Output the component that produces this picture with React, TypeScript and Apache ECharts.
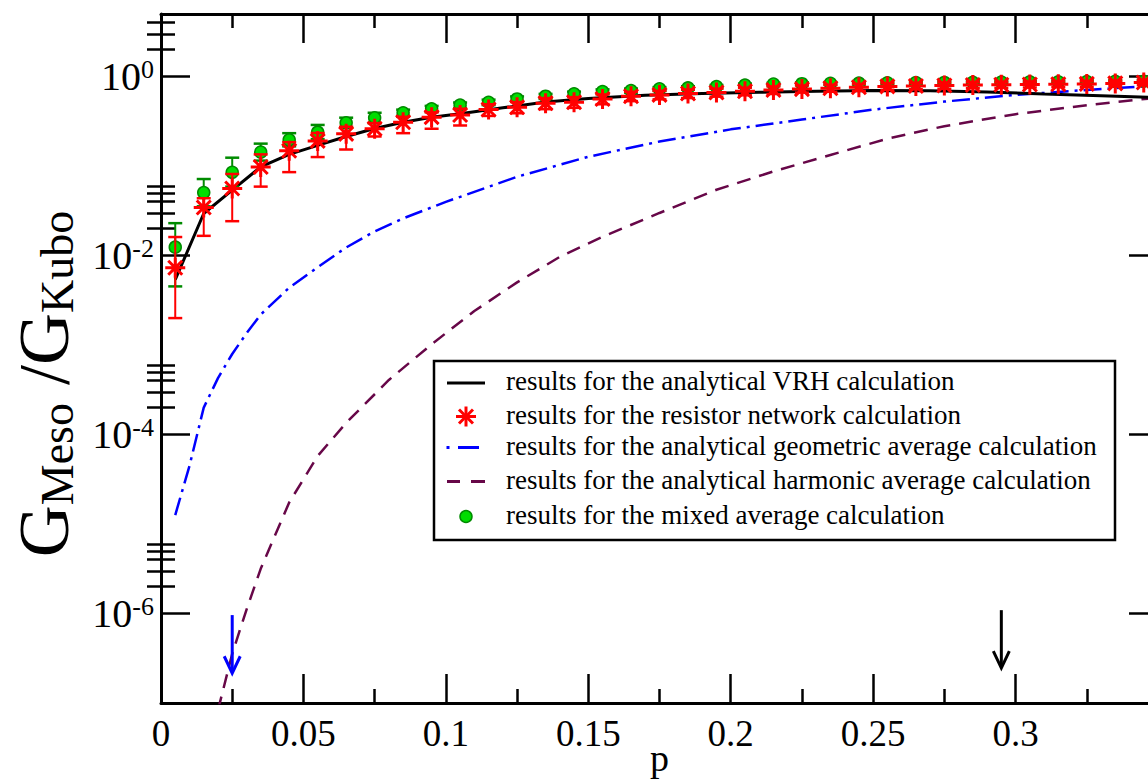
import React, { useEffect, useRef } from 'react';
import * as echarts from 'echarts';

const FONT = "'Liberation Serif', 'Times New Roman', serif";

// ---------------- data ----------------
const pPoints = [0.005, 0.015, 0.025, 0.035, 0.045, 0.055, 0.065, 0.075, 0.085, 0.095, 0.105, 0.115, 0.125, 0.135, 0.145, 0.155, 0.165, 0.175, 0.185, 0.195, 0.205, 0.215, 0.225, 0.235, 0.245, 0.255, 0.265, 0.275, 0.285, 0.295, 0.305, 0.315, 0.325, 0.335, 0.345];

// resistor network (red asterisks)
const resistorValues = [0.00731, 0.0344, 0.0562, 0.0977, 0.148, 0.191, 0.229, 0.261, 0.309, 0.352, 0.372, 0.428, 0.454, 0.504, 0.516, 0.562, 0.603, 0.624, 0.646, 0.664, 0.684, 0.708, 0.724, 0.741, 0.759, 0.776, 0.785, 0.794, 0.804, 0.809, 0.815, 0.82, 0.828, 0.838, 0.859];
const resistorLow = [0.002, 0.0166, 0.0242, 0.0589, 0.0855, 0.126, 0.153, 0.214, 0.233, 0.261, 0.284, 0.363, 0.389, 0.432, 0.447, 0.49, 0.531, 0.556, 0.575, 0.596, 0.617, 0.638, 0.661, 0.676, 0.692, 0.711, 0.721, 0.731, 0.741, 0.748, 0.755, 0.762, 0.769, 0.78, 0.802];
const resistorHigh = [0.0161, 0.0437, 0.0815, 0.135, 0.185, 0.234, 0.275, 0.302, 0.355, 0.398, 0.437, 0.49, 0.519, 0.575, 0.589, 0.631, 0.676, 0.692, 0.716, 0.733, 0.75, 0.776, 0.794, 0.809, 0.826, 0.841, 0.851, 0.859, 0.867, 0.871, 0.877, 0.881, 0.889, 0.897, 0.918];

// mixed average (green circles)
const mixedValues = [0.0124, 0.0505, 0.0851, 0.143, 0.196, 0.239, 0.304, 0.346, 0.394, 0.436, 0.479, 0.516, 0.562, 0.603, 0.641, 0.681, 0.698, 0.728, 0.746, 0.773, 0.804, 0.822, 0.832, 0.838, 0.843, 0.849, 0.855, 0.859, 0.863, 0.867, 0.871, 0.875, 0.879, 0.883, 0.887];
const mixedLow = [0.00452, 0.0355, 0.0589, 0.115, 0.166, 0.2, 0.269, 0.302, 0.363, 0.403, 0.442, 0.479, 0.525, 0.562, 0.603, 0.641, 0.661, 0.692, 0.711, 0.738, 0.769, 0.794, 0.804, 0.81, 0.815, 0.821, 0.826, 0.83, 0.834, 0.838, 0.842, 0.846, 0.85, 0.854, 0.858];
const mixedHigh = [0.023, 0.0716, 0.124, 0.178, 0.233, 0.288, 0.347, 0.394, 0.427, 0.47, 0.513, 0.552, 0.6, 0.64, 0.679, 0.719, 0.735, 0.762, 0.78, 0.805, 0.836, 0.851, 0.861, 0.867, 0.873, 0.879, 0.885, 0.889, 0.893, 0.897, 0.901, 0.905, 0.909, 0.913, 0.917];

// analytical VRH (black solid)
const vrhP = [0.005, 0.015, 0.025, 0.035, 0.045, 0.055, 0.065, 0.075, 0.085, 0.095, 0.105, 0.12, 0.135, 0.15, 0.17, 0.19, 0.21, 0.23, 0.25, 0.27, 0.29, 0.31, 0.33, 0.35];
const vrhValues = [0.00537, 0.0295, 0.0537, 0.0977, 0.135, 0.17, 0.214, 0.263, 0.309, 0.351, 0.385, 0.447, 0.519, 0.569, 0.617, 0.646, 0.668, 0.687, 0.698, 0.695, 0.673, 0.638, 0.61, 0.582];

// analytical geometric average (blue dash-dot)
const geoP = [0.005, 0.01, 0.015, 0.02, 0.025, 0.03, 0.035, 0.045, 0.055, 0.065, 0.075, 0.085, 0.1, 0.125, 0.15, 0.175, 0.2, 0.225, 0.25, 0.275, 0.3, 0.325, 0.35];
const geoValues = [1.26e-5, 4.47e-5, 2.0e-4, 4.27e-4, 7.94e-4, 1.35e-3, 2.19e-3, 4.37e-3, 7.41e-3, 0.0123, 0.0186, 0.026, 0.0398, 0.0759, 0.127, 0.188, 0.257, 0.331, 0.427, 0.525, 0.624, 0.708, 0.794];

// analytical harmonic average (maroon dashed)
const harmP = [0.02, 0.025, 0.03, 0.035, 0.045, 0.055, 0.065, 0.08, 0.095, 0.11, 0.125, 0.14, 0.155, 0.175, 0.195, 0.215, 0.235, 0.255, 0.275, 0.3, 0.325, 0.35];
const harmValues = [8.3e-8, 3.55e-7, 1.1e-6, 3.16e-6, 1.74e-5, 5.75e-5, 1.35e-4, 4.07e-4, 1.02e-3, 2.4e-3, 5.01e-3, 9.66e-3, 0.0162, 0.0299, 0.0543, 0.0871, 0.133, 0.202, 0.279, 0.38, 0.479, 0.582];

// arrows (p, start value, tip value)
const arrowP = [0.025, 0.295];
const arrowTop = [9.6e-7, 1.09e-6];
const arrowTip = [2.15e-7, 2.46e-7];

const yMajorTicks = [1e-6, 1e-4, 1e-2, 1];
const yMinorTicks = [2e-6, 3e-6, 4e-6, 5e-6, 6e-6, 2e-4, 3e-4, 4e-4, 5e-4, 6e-4, 2e-2, 3e-2, 4e-2, 5e-2, 6e-2, 2, 3, 4];

const legendLabels = [
  'results for the analytical VRH calculation',
  'results for the resistor network calculation',
  'results for the analytical geometric average calculation',
  'results for the analytical harmonic average calculation',
  'results for the mixed average calculation',
];

// ---------------- styles ----------------
const RED = '#ff0000';
const BLUE = '#0000ff';
const MAROON = '#670748';
const GREEN_FILL = '#00dd00';
const GREEN_DARK = '#008b00';
const ARROW_COLORS = [BLUE, '#000000'];
const ASTERISK = 'path://M10,0L10,20M0,10L20,10M3,3L17,17M3,17L17,3';

const errorBarRender = (color: string) => (params: any, api: any) => {
  const x = api.value(0);
  const lo = api.coord([x, api.value(1)]);
  const hi = api.coord([x, api.value(2)]);
  const hw = 7;
  return {
    type: 'group',
    children: [
      { type: 'line', shape: { x1: lo[0], y1: lo[1], x2: hi[0], y2: hi[1] }, style: { stroke: color, lineWidth: 2 } },
      { type: 'line', shape: { x1: lo[0] - hw, y1: lo[1], x2: lo[0] + hw, y2: lo[1] }, style: { stroke: color, lineWidth: 2.5 } },
      { type: 'line', shape: { x1: hi[0] - hw, y1: hi[1], x2: hi[0] + hw, y2: hi[1] }, style: { stroke: color, lineWidth: 2.5 } },
    ],
  };
};

const arrowRender = (params: any, api: any) => {
  const x = api.value(0);
  const top = api.coord([x, api.value(1)]);
  const tip = api.coord([x, api.value(2)]);
  const color = ARROW_COLORS[params.dataIndex];
  return {
    type: 'group',
    children: [
      { type: 'line', shape: { x1: top[0], y1: top[1], x2: tip[0], y2: tip[1] - 1 }, style: { stroke: color, lineWidth: 3 } },
      {
        type: 'polyline',
        shape: { points: [[tip[0] - 8, tip[1] - 17], [tip[0], tip[1]], [tip[0] + 8, tip[1] - 17]] },
        style: { stroke: color, lineWidth: 3, fill: 'none' },
      },
    ],
  };
};

const fmtX = (v: number) => (v > 0.345 ? '' : String(parseFloat(v.toFixed(3))));

const tickStyle = { color: '#000', width: 2.5 };
const axisLineStyle = { show: true, onZero: false, lineStyle: { color: '#000', width: 3 } };

const xAxisBase = {
  type: 'value' as const,
  min: 0,
  max: 0.35,
  interval: 0.05,
  axisLine: axisLineStyle,
  axisTick: { show: true, inside: true, length: 29, lineStyle: tickStyle },
  minorTick: { show: true, splitNumber: 2, length: 14, lineStyle: tickStyle },
  splitLine: { show: false },
  minorSplitLine: { show: false },
};

const yAxisBase = {
  type: 'log' as const,
  logBase: 10,
  min: 1e-7,
  max: 5,
  splitLine: { show: false },
  minorTick: { show: false },
};

function buildOption() {
  const legendX0 = 434;
  const legendY0 = 361;
  const rowY = [383, 416.5, 447.5, 481.5, 516.5];
  const symX = 466;
  const textX = 506;
  const legendEls: any[] = [
    { type: 'rect', shape: { x: legendX0, y: legendY0, width: 681, height: 179 }, style: { fill: '#fff', stroke: '#000', lineWidth: 2.5 }, z: 100 },
    { type: 'line', shape: { x1: 447, y1: rowY[0], x2: 485, y2: rowY[0] }, style: { stroke: '#000', lineWidth: 3 }, z: 101 },
    { type: 'line', shape: { x1: symX, y1: rowY[1] - 10, x2: symX, y2: rowY[1] + 10 }, style: { stroke: RED, lineWidth: 3 }, z: 101 },
    { type: 'line', shape: { x1: symX - 10, y1: rowY[1], x2: symX + 10, y2: rowY[1] }, style: { stroke: RED, lineWidth: 3 }, z: 101 },
    { type: 'line', shape: { x1: symX - 7, y1: rowY[1] - 7, x2: symX + 7, y2: rowY[1] + 7 }, style: { stroke: RED, lineWidth: 3 }, z: 101 },
    { type: 'line', shape: { x1: symX - 7, y1: rowY[1] + 7, x2: symX + 7, y2: rowY[1] - 7 }, style: { stroke: RED, lineWidth: 3 }, z: 101 },
    { type: 'line', shape: { x1: 446.5, y1: rowY[2], x2: 449.5, y2: rowY[2] }, style: { stroke: BLUE, lineWidth: 3 }, z: 101 },
    { type: 'line', shape: { x1: 458, y1: rowY[2], x2: 479, y2: rowY[2] }, style: { stroke: BLUE, lineWidth: 3 }, z: 101 },
    { type: 'line', shape: { x1: 447, y1: rowY[3], x2: 460, y2: rowY[3] }, style: { stroke: MAROON, lineWidth: 3 }, z: 101 },
    { type: 'line', shape: { x1: 471, y1: rowY[3], x2: 485, y2: rowY[3] }, style: { stroke: MAROON, lineWidth: 3 }, z: 101 },
    { type: 'circle', shape: { cx: symX, cy: rowY[4], r: 6 }, style: { fill: GREEN_FILL, stroke: GREEN_DARK, lineWidth: 1.5 }, z: 101 },
  ];
  legendLabels.forEach((t, i) => {
    legendEls.push({
      type: 'text',
      x: textX,
      y: rowY[i] - 2,
      z: 101,
      style: { text: t, fontSize: 27, fontFamily: FONT, fill: '#000', align: 'left', verticalAlign: 'middle' },
    });
  });

  const yTitle = {
    type: 'text',
    x: 44,
    y: 384,
    rotation: Math.PI / 2,
    z: 100,
    style: {
      text: '{G|G}{s|Meso}{G| /G}{s|Kubo}',
      align: 'center',
      verticalAlign: 'middle',
      fontFamily: FONT,
      fill: '#000',
      rich: {
        G: { fontSize: 72, fontFamily: FONT, fill: '#000', lineHeight: 72, padding: [0, 0, 5, 0], verticalAlign: 'top' },
        s: { fontSize: 46, fontFamily: FONT, fill: '#000', lineHeight: 46, verticalAlign: 'bottom' },
      },
    },
  };

  return {
    animation: false,
    backgroundColor: '#fff',
    grid: { left: 161, top: 14, width: 997, height: 689, containLabel: false, outerBoundsMode: 'none' },
    xAxis: [
      {
        ...xAxisBase,
        position: 'bottom',
        axisLabel: { show: true, formatter: fmtX, fontSize: 37, fontFamily: FONT, color: '#000', margin: 12 },
        name: 'p',
        nameLocation: 'middle',
        nameGap: 36,
        nameMoveOverlap: false,
        nameTextStyle: { fontSize: 38, fontFamily: FONT, color: '#000' },
      },
      { ...xAxisBase, position: 'top', axisLabel: { show: false } },
    ],
    yAxis: [
      {
        ...yAxisBase,
        position: 'left',
        axisLine: axisLineStyle,
        axisTick: { show: true, inside: true, length: 29, lineStyle: tickStyle, customValues: yMajorTicks },
        axisLabel: {
          show: true,
          customValues: yMajorTicks,
          margin: 7,
          formatter: (v: number) => `{b|10}{s|${Math.round(Math.log10(v))}}`,
          rich: {
            b: { fontSize: 40, fontFamily: FONT, color: '#000', lineHeight: 40, padding: [14, 0, 0, 0], verticalAlign: 'bottom' },
            s: { fontSize: 26, fontFamily: FONT, color: '#000', lineHeight: 26, verticalAlign: 'top' },
          },
        },
      },
      {
        ...yAxisBase,
        position: 'left',
        axisLine: { show: false },
        axisTick: { show: true, inside: true, length: 14, lineStyle: tickStyle, customValues: yMinorTicks },
        axisLabel: { show: false },
      },
      {
        ...yAxisBase,
        position: 'right',
        axisLine: axisLineStyle,
        axisTick: { show: true, inside: true, length: 29, lineStyle: tickStyle, customValues: yMajorTicks },
        axisLabel: { show: false },
      },
      {
        ...yAxisBase,
        position: 'right',
        axisLine: { show: false },
        axisTick: { show: true, inside: true, length: 14, lineStyle: tickStyle, customValues: yMinorTicks },
        axisLabel: { show: false },
      },
    ],
    graphic: { elements: [...legendEls, yTitle] },
    series: [
      {
        name: 'harmonic',
        type: 'line',
        data: harmP.map((p, i) => [p, harmValues[i]]),
        showSymbol: false,
        symbol: 'none',
        clip: true,
        lineStyle: { color: MAROON, width: 2.5, type: [14, 9] },
        z: 2,
        silent: true,
      },
      {
        name: 'geometric',
        type: 'line',
        data: geoP.map((p, i) => [p, geoValues[i]]),
        showSymbol: false,
        symbol: 'none',
        clip: true,
        lineStyle: { color: BLUE, width: 2.5, type: [18, 6, 3, 6] },
        z: 2,
        silent: true,
      },
      {
        name: 'VRH',
        type: 'line',
        data: vrhP.map((p, i) => [p, vrhValues[i]]),
        showSymbol: false,
        symbol: 'none',
        clip: true,
        lineStyle: { color: '#000', width: 3 },
        z: 3,
        silent: true,
      },
      {
        name: 'mixed error',
        type: 'custom',
        data: pPoints.map((p, i) => [p, mixedLow[i], mixedHigh[i]]),
        encode: { x: 0, y: [1, 2] },
        renderItem: errorBarRender(GREEN_DARK),
        z: 4,
        silent: true,
      },
      {
        name: 'mixed',
        type: 'scatter',
        data: pPoints.map((p, i) => [p, mixedValues[i]]),
        symbol: 'circle',
        symbolSize: 12,
        itemStyle: { color: GREEN_FILL, borderColor: GREEN_DARK, borderWidth: 1.5, opacity: 1 },
        z: 5,
        silent: true,
      },
      {
        name: 'resistor error',
        type: 'custom',
        data: pPoints.map((p, i) => [p, resistorLow[i], resistorHigh[i]]),
        encode: { x: 0, y: [1, 2] },
        renderItem: errorBarRender(RED),
        z: 6,
        silent: true,
      },
      {
        name: 'resistor',
        type: 'scatter',
        data: pPoints.map((p, i) => [p, resistorValues[i]]),
        symbol: ASTERISK,
        symbolSize: 20,
        itemStyle: { color: RED, borderColor: RED, borderWidth: 3, opacity: 1 },
        z: 7,
        silent: true,
      },
      {
        name: 'arrows',
        type: 'custom',
        data: arrowP.map((p, i) => [p, arrowTop[i], arrowTip[i]]),
        encode: { x: 0, y: [1, 2] },
        renderItem: arrowRender,
        z: 8,
        silent: true,
      },
    ],
  };
}

export default function App() {
  const ref = useRef<HTMLDivElement>(null);
  useEffect(() => {
    if (!ref.current) return;
    const chart = echarts.init(ref.current, null, { renderer: 'svg' });
    chart.setOption(buildOption() as any);
    return () => chart.dispose();
  }, []);
  return (
    <div style={{ position: 'fixed', left: 0, top: 0, width: 1148, height: 780, overflow: 'hidden', background: '#fff' }}>
      <div ref={ref} style={{ width: 1175, height: 780 }} />
    </div>
  );
}
